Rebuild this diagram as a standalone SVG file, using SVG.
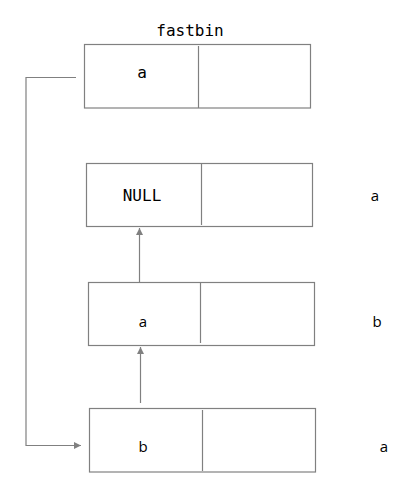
<svg xmlns="http://www.w3.org/2000/svg" width="402" height="489" viewBox="0 0 402 489">
<style>
.box{fill:#fff;stroke:#808080;stroke-width:1.2}
.div{stroke:#808080;stroke-width:1.2}
.mono{font-family:"DejaVu Sans Mono",monospace;font-size:16px;fill:#000}
.sans{font-family:"Open Sans","DejaVu Sans",sans-serif;font-size:15px;fill:#000}
.conn{fill:none;stroke:#808080;stroke-width:1.2}
</style>
<defs>
<marker id="ah" viewBox="0 0 10 10" refX="10" refY="5" markerWidth="7" markerHeight="7" orient="auto" markerUnits="userSpaceOnUse">
<path d="M0,0 L10,5 L0,10 z" fill="#808080"/>
</marker>
</defs>
<rect width="402" height="489" fill="#fff"/>
<text class="mono" x="190" y="36" text-anchor="middle">fastbin</text>
<g id="fastbin">
<rect class="box" x="84.5" y="44.5" width="226" height="63.5"/>
<line class="div" x1="198.5" y1="46" x2="198.5" y2="108"/>
<text class="mono" x="142" y="78" text-anchor="middle">a</text>
</g>
<g id="chunk-null">
<rect class="box" x="86.5" y="163.5" width="226" height="63"/>
<line class="div" x1="201.5" y1="164" x2="201.5" y2="225"/>
<text class="mono" x="142" y="201" text-anchor="middle">NULL</text>
<text class="sans" x="375" y="201" text-anchor="middle">a</text>
</g>
<g id="chunk-b">
<rect class="box" x="88.5" y="282.5" width="226" height="63"/>
<line class="div" x1="200.5" y1="283" x2="200.5" y2="343"/>
<text class="sans" x="143" y="327" text-anchor="middle">a</text>
<text class="sans" x="377" y="327" text-anchor="middle">b</text>
</g>
<g id="chunk-a">
<rect class="box" x="89.5" y="408.5" width="226" height="63.5"/>
<line class="div" x1="202.5" y1="410" x2="202.5" y2="471"/>
<text class="sans" x="143" y="452" text-anchor="middle">b</text>
<text class="sans" x="384" y="452" text-anchor="middle">a</text>
</g>
<g id="connectors">
<polyline class="conn" points="76,77.5 26,77.5 26,445.5 81,445.5" marker-end="url(#ah)"/>
<line class="conn" x1="139.5" y1="283" x2="139.5" y2="228" marker-end="url(#ah)"/>
<line class="conn" x1="140.5" y1="403" x2="140.5" y2="347" marker-end="url(#ah)"/>
</g>
</svg>
